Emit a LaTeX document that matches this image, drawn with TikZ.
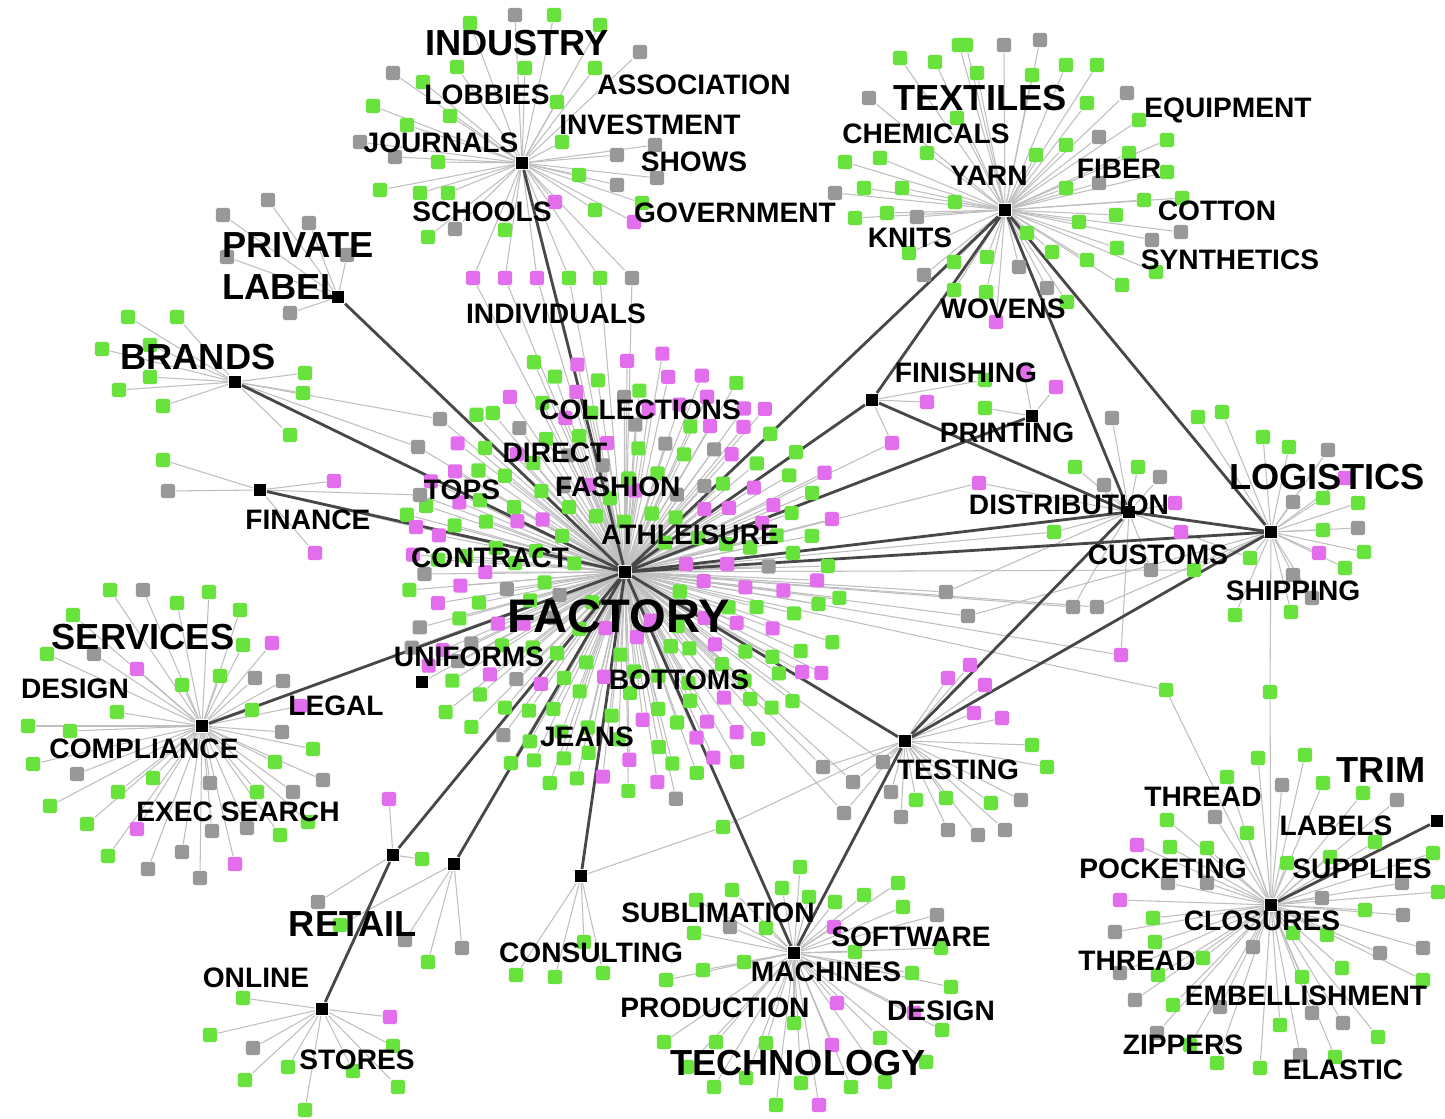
\documentclass[tikz,border=0pt]{standalone}
\usepackage{fontspec}
\setmainfont{Liberation Sans}
\definecolor{gn}{RGB}{104,226,60}
\definecolor{mg}{RGB}{226,110,238}
\definecolor{gy}{RGB}{152,152,152}
\pgfdeclarelayer{paper}
\pgfdeclarelayer{twigs}
\pgfdeclarelayer{words}
\pgfsetlayers{paper,twigs,main,words}
\tikzset{
  hub/.style={rectangle, fill=black, inner sep=0pt, minimum size=3.6pt},
  leaf/.style={rectangle, fill=#1, inner sep=0pt, minimum size=4pt, rounded corners=0.5pt},
  twig/.style={draw=gray!50, line width=0.3pt},
  trunk/.style={draw=black!72, line width=0.8pt},
  tag/.style={font=\fontsize{8}{9}\selectfont\bfseries, inner sep=0pt},
  title/.style={font=\fontsize{10.3}{12}\selectfont\bfseries, inner sep=0pt},
}
% thin lines from a hub to its leaves #1-1 ... #1-\nleaf
\newcommand\twigs[1]{%
  \begin{pgfonlayer}{twigs}
  \foreach \k in {1,...,\nleaf} \draw[twig] (#1) -- (#1-\k);
  \end{pgfonlayer}}
\begin{document}
\begin{tikzpicture}[x=0.01cm, y=-0.01cm]
\begin{pgfonlayer}{paper}
\fill[white] (0,0) rectangle (1445,1119);
\end{pgfonlayer}
\useasboundingbox (0,0) rectangle (1445,1119);

% hubs
\node[hub] (fac) at (625,572) {};
\node[hub] (ind) at (522,163) {};
\node[hub] (yarn) at (1005,210) {};
\node[hub] (plab) at (338,297) {};
\node[hub] (brand) at (235,382) {};
\node[hub] (fin) at (260,490) {};
\node[hub] (serv) at (202,726) {};
\node[hub] (legal) at (422,682) {};
\node[hub] (ret) at (393,855) {};
\node[hub] (ret2) at (454,864) {};
\node[hub] (store) at (322,1009) {};
\node[hub] (cons) at (581,876) {};
\node[hub] (mach) at (794,953) {};
\node[hub] (test) at (905,741) {};
\node[hub] (finish) at (872,400) {};
\node[hub] (print) at (1032,416) {};
\node[hub] (dist) at (1129,512) {};
\node[hub] (logi) at (1271,532) {};
\node[hub] (trim) at (1271,905) {};
\node[hub] (trimx) at (1437,821) {};

% hub to hub
\foreach \a/\b in {fac/ind, fac/plab, fac/brand, fac/fin, fac/serv, fac/yarn,
  fac/finish, fac/print, fac/dist, fac/logi, fac/test, fac/mach, fac/cons,
  fac/ret, fac/ret2, ret/store, yarn/finish, yarn/dist, yarn/logi,
  finish/dist, dist/logi, dist/test, logi/test, test/mach, trim/trimx}
  \draw[trunk] (\a) -- (\b);
\begin{pgfonlayer}{twigs}
\draw[twig] (fac) -- (legal);
\end{pgfonlayer}

% factory cloud
\pgfmathsetseed{4}
\foreach \i in {1,...,210}{
  \pgfmathsetmacro\ang{360*(\i*0.381966-floor(\i*0.381966))}
  \pgfmathsetmacro\rad{10*sqrt(20+\i/210*(515-20))}
  \pgfmathsetmacro\u{rnd}
  \pgfmathsetmacro\px{622+\rad*cos(\ang)+6*rand}
  \pgfmathsetmacro\py{575+\rad*sin(\ang)+6*rand}
  \ifdim\u pt<0.28pt \def\c{mg}\else\ifdim\u pt<0.42pt \def\c{gy}\else\def\c{gn}\fi\fi
  \node[leaf=\c] (fac-\i) at (\px,\py) {};
  \xdef\nleaf{\i}
}
\twigs{fac}

% industry
\foreach \x/\y/\c [count=\i] in {393/73/gy, 423/82/gn, 373/106/gn, 407/125/gn,
  450/116/gn, 360/142/gy, 395/157/gy, 438/162/gn, 380/190/gn, 420/193/gn,
  448/193/gn, 455/229/gy, 428/237/gn, 470/23/gn, 457/67/gn, 515/15/gy,
  554/15/gn, 600/25/gn, 640/52/gy, 525/68/gn, 595/68/gn, 557/102/gn,
  562/142/gn, 617/155/gy, 655/145/gy, 579/175/gn, 617/185/gy, 657/178/gy,
  555/202/mg, 595/210/gn, 642/203/gn, 634/222/mg, 505/230/gn}{
  \node[leaf=\c] (ind-\i) at (\x,\y) {};
  \xdef\nleaf{\i}
}
\twigs{ind}

% textiles
\foreach \x/\y/\c [count=\i] in {966/45/gn, 1004/45/gy, 1040/40/gy, 977/73/gn,
  1032/75/gn, 1066/65/gn, 1097/65/gn, 1127/93/gy, 1087/103/gn, 1139/120/gn,
  1099/137/gy, 1066/145/gn, 1036/155/gn, 1167/140/gn, 1129/153/gn,
  1167/172/gn, 1099/183/gy, 1066/188/gn, 1144/200/gn, 1182/198/gn,
  1116/215/gn, 1079/222/gn, 1181/232/gy, 1152/240/gy, 1027/233/gn,
  1052/252/gn, 1087/260/gn, 1117/248/gn, 1156/272/gn, 1122/285/gn,
  1019/267/gy, 987/257/gn, 1047/288/gy, 986/292/gn, 1067/302/gn, 996/322/mg,
  900/58/gn, 935/62/gn, 869/98/gy, 845/162/gn, 880/158/gn, 927/153/gn,
  835/193/gy, 864/188/gn, 902/188/gn, 855/218/gn, 887/213/gn, 917/217/gy,
  955/202/gn, 909/253/gn, 924/275/gy, 954/262/gn, 954/290/gn, 959/45/gn,
  957/118/gn}{
  \node[leaf=\c] (yarn-\i) at (\x,\y) {};
  \xdef\nleaf{\i}
}
\twigs{yarn}

% private label, brands, finance
\foreach \x/\y/\c [count=\i] in {268/200/gy, 223/215/gy, 309/223/gy, 227/257/gy,
  347/255/gy, 290/313/gy}{
  \node[leaf=\c] (plab-\i) at (\x,\y) {};
  \xdef\nleaf{\i}
}
\twigs{plab}
\foreach \x/\y/\c [count=\i] in {128/317/gn, 177/317/gn, 102/349/gn, 150/345/gn,
  150/377/gn, 119/390/gn, 163/406/gn, 305/373/gn, 303/393/gn, 290/435/gn}{
  \node[leaf=\c] (brand-\i) at (\x,\y) {};
  \xdef\nleaf{\i}
}
\twigs{brand}
\foreach \x/\y/\c [count=\i] in {163/460/gn, 168/491/gy, 334/481/mg, 315/553/mg}{
  \node[leaf=\c] (fin-\i) at (\x,\y) {};
  \xdef\nleaf{\i}
}
\twigs{fin}

% services
\foreach \x/\y/\c [count=\i] in {110/590/gn, 143/590/gy, 177/603/gn, 209/592/gn,
  240/610/gn, 73/615/gn, 47/654/gn, 94/654/gy, 243/645/gn, 272/643/mg,
  137/669/mg, 182/685/gn, 220/676/gn, 255/678/gy, 283/681/gy, 117/712/gn,
  28/726/gn, 70/731/gn, 252/710/gn, 300/706/mg, 282/732/gy, 313/749/gn,
  33/764/gn, 77/774/gy, 153/778/gn, 275/762/gn, 323/780/gy, 118/792/gn,
  210/783/gy, 257/792/gn, 293/792/gy, 50/806/gn, 87/824/gn, 137/829/mg,
  212/831/gy, 247/828/gy, 280/835/gn, 308/822/gn, 108/856/gn, 182/852/gy,
  235/864/mg, 148/869/gy, 200/878/gy}{
  \node[leaf=\c] (serv-\i) at (\x,\y) {};
  \xdef\nleaf{\i}
}
\twigs{serv}

% retail
\foreach \x/\y/\c [count=\i] in {389/799/mg, 318/902/gy, 422/859/gn}{
  \node[leaf=\c] (ret-\i) at (\x,\y) {};
  \xdef\nleaf{\i}
}
\twigs{ret}
\foreach \x/\y/\c [count=\i] in {405/940/gy, 428/962/gn, 462/948/gy, 340/925/gn}{
  \node[leaf=\c] (ret2-\i) at (\x,\y) {};
  \xdef\nleaf{\i}
}
\twigs{ret2}
\foreach \x/\y/\c [count=\i] in {243/998/gn, 390/1017/mg, 210/1035/gn,
  253/1048/gy, 393/1046/gn, 288/1067/gn, 353/1071/gn, 245/1080/gn,
  398/1087/gn, 305/1110/gn}{
  \node[leaf=\c] (store-\i) at (\x,\y) {};
  \xdef\nleaf{\i}
}
\twigs{store}

% consulting, technology
\foreach \x/\y/\c [count=\i] in {516/975/gn, 555/977/gn, 603/973/gn, 584/942/gn}{
  \node[leaf=\c] (cons-\i) at (\x,\y) {};
  \xdef\nleaf{\i}
}
\twigs{cons}
\foreach \x/\y/\c [count=\i] in {800/867/gn, 732/890/gn, 782/888/gn, 809/897/gn,
  696/900/gn, 835/902/gn, 864/895/gn, 898/883/gn, 903/907/gn, 937/915/gy,
  834/927/mg, 730/927/gy, 766/928/gn, 694/933/gn, 855/952/gn, 941/948/gn,
  744/962/gn, 703/970/gn, 666/980/gn, 912/973/gn, 951/987/gn, 837/1003/mg,
  794/1023/gn, 914/1013/mg, 942/1030/gn, 664/1042/gn, 716/1042/gn,
  766/1043/gn, 832/1045/mg, 880/1038/gn, 926/1062/gn, 687/1067/gn,
  746/1078/gn, 714/1087/gn, 801/1083/gn, 851/1087/gn, 885/1082/gn,
  776/1105/gn, 819/1105/mg}{
  \node[leaf=\c] (mach-\i) at (\x,\y) {};
  \xdef\nleaf{\i}
}
\twigs{mach}

% testing
\foreach \x/\y/\c [count=\i] in {970/665/mg, 948/678/mg, 985/685/mg, 974/713/mg,
  1002/718/mg, 1032/745/gn, 1047/767/gn, 883/762/gy, 823/767/gy, 853/782/gy,
  891/792/gy, 844/813/gy, 901/817/gy, 916/800/gn, 946/798/gn, 991/803/gn,
  1021/800/gy, 948/830/gy, 978/835/gy, 1005/830/gy}{
  \node[leaf=\c] (test-\i) at (\x,\y) {};
  \xdef\nleaf{\i}
}
\twigs{test}

% finishing, printing, distribution, logistics
\foreach \x/\y/\c [count=\i] in {927/402/mg, 985/380/gn}{
  \node[leaf=\c] (finish-\i) at (\x,\y) {};
  \xdef\nleaf{\i}
}
\twigs{finish}
\foreach \x/\y/\c [count=\i] in {1024/373/mg, 1056/387/mg, 985/408/gn}{
  \node[leaf=\c] (print-\i) at (\x,\y) {};
  \xdef\nleaf{\i}
}
\twigs{print}
\foreach \x/\y/\c [count=\i] in {1075/467/gn, 1138/467/gn, 1104/485/gy,
  1160/477/gy, 1175/503/mg, 1181/532/mg, 1112/418/gy, 1151/570/gy}{
  \node[leaf=\c] (dist-\i) at (\x,\y) {};
  \xdef\nleaf{\i}
}
\twigs{dist}
\foreach \x/\y/\c [count=\i] in {1198/417/gn, 1222/412/gn, 1263/437/gn,
  1289/447/gn, 1328/450/gy, 1345/478/mg, 1293/502/gy, 1323/498/gn,
  1358/503/gn, 1323/530/gn, 1358/528/gy, 1319/553/mg, 1364/552/gn,
  1345/568/gn, 1293/575/gy, 1312/598/gy, 1235/615/gn, 1291/612/gn}{
  \node[leaf=\c] (logi-\i) at (\x,\y) {};
  \xdef\nleaf{\i}
}
\twigs{logi}

% trim
\foreach \x/\y/\c [count=\i] in {1258/758/gn, 1305/755/gn, 1227/777/gn,
  1282/785/gy, 1323/783/gn, 1363/793/gn, 1397/800/gy, 1167/820/gn,
  1215/817/gy, 1247/833/gn, 1375/842/gn, 1137/845/mg, 1170/847/gn,
  1207/848/gn, 1287/863/gn, 1330/857/gn, 1433/853/gn, 1168/883/gy,
  1207/883/gy, 1402/883/gy, 1438/892/gn, 1120/900/mg, 1322/898/gy,
  1365/910/gn, 1403/915/gy, 1153/918/gn, 1115/932/gy, 1293/933/gn,
  1327/935/gn, 1155/942/gn, 1253/947/gy, 1380/953/gy, 1423/948/gy,
  1203/958/gn, 1120/973/gy, 1158/975/gn, 1302/977/gn, 1342/968/gn,
  1423/980/gn, 1135/1000/gy, 1173/1005/gn, 1220/1007/gy, 1312/1013/gy,
  1343/1023/gy, 1280/1025/gn, 1378/1037/gn, 1157/1033/gy, 1190/1045/gn,
  1300/1055/gy, 1335/1057/gn, 1217/1063/gn, 1260/1068/gn}{
  \node[leaf=\c] (trim-\i) at (\x,\y) {};
  \xdef\nleaf{\i}
}
\twigs{trim}

% leaves shared by two hubs
\foreach \x/\y/\c [count=\i] in {473/278/mg, 505/278/mg, 537/278/mg, 569/278/gn,
  600/278/gn, 632/278/gy, 1121/655/mg, 1166/690/gn, 1270/692/gn, 723/827/gn,
  946/592/gy, 968/616/gy, 892/443/mg, 979/483/mg, 1054/532/gn, 1073/607/gy,
  1097/607/gy, 1194/570/gn, 1250/558/gn, 418/447/gy, 440/419/gy, 416/527/mg,
  420/495/gy}
  \node[leaf=\c] (sh-\i) at (\x,\y) {};
\begin{pgfonlayer}{twigs}
\foreach \a/\i/\b in {ind/1/fac, ind/2/fac, ind/3/fac, ind/4/fac, ind/5/fac,
  ind/6/fac, dist/7/fac, fac/8/trim, logi/9/trim, cons/10/test, dist/11/fac,
  logi/12/fac, finish/13/fac, dist/14/fac, dist/15/fac, dist/16/fac,
  logi/17/fac, logi/18/fac, logi/19/dist, brand/20/fac, brand/21/fac,
  fin/22/fac, fin/23/fac}
  \draw[twig] (\a) -- (sh-\i) -- (\b);
\foreach \n in {test-9, test-10, test-12, test-8}
  \draw[twig] (fac) -- (\n);
\end{pgfonlayer}

% labels
\begin{pgfonlayer}{words}
\node[title] (tind) at (517,43) {INDUSTRY};
\node[title] (ttex) at (980,98) {TEXTILES};
\node[title, align=left] (tplab) at (298,266) {PRIVATE\\LABEL};
\node[title] (tbrand) at (198,357) {BRANDS};
\node[title] (tserv) at (143,637) {SERVICES};
\node[title] (tret) at (353,924) {RETAIL};
\node[title] (ttech) at (798,1063) {TECHNOLOGY};
\node[title] (tlogi) at (1327,477) {LOGISTICS};
\node[title] (ttrim) at (1381,770) {TRIM};
\node[font=\fontsize{13.4}{14}\selectfont\bfseries, inner sep=0pt] (tfac) at (619,616) {FACTORY};

\node[tag] (lobbies) at (487,95) {LOBBIES};
\node[tag] (journals) at (441,143) {JOURNALS};
\node[tag] (schools) at (482,212) {SCHOOLS};
\node[tag] (assoc) at (694,85) {ASSOCIATION};
\node[tag] (invest) at (650,125) {INVESTMENT};
\node[tag] (shows) at (694,162) {SHOWS};
\node[tag] (govt) at (735,213) {GOVERNMENT};
\node[tag] (indiv) at (556,314) {INDIVIDUALS};
\node[tag] (chem) at (926,134) {CHEMICALS};
\node[tag] (equip) at (1228,110) {EQUIPMENT};
\node[tag] (tyarn) at (989,176) {YARN};
\node[tag] (fiber) at (1119,169) {FIBER};
\node[tag] (cotton) at (1217,211) {COTTON};
\node[tag] (synth) at (1230,260) {SYNTHETICS};
\node[tag] (knits) at (910,238) {KNITS};
\node[tag] (wovens) at (1003,309) {WOVENS};
\node[tag] (tfinish) at (966,373) {FINISHING};
\node[tag] (tprint) at (1007,433) {PRINTING};
\node[tag] (tdist) at (1069,505) {DISTRIBUTION};
\node[tag] (customs) at (1158,555) {CUSTOMS};
\node[tag] (shipping) at (1293,591) {SHIPPING};
\node[tag] (ttest) at (958,770) {TESTING};
\node[tag] (collect) at (640,410) {COLLECTIONS};
\node[tag] (direct) at (555,453) {DIRECT};
\node[tag] (tops) at (462,490) {TOPS};
\node[tag] (fashion) at (618,487) {FASHION};
\node[tag] (athl) at (690,535) {ATHLEISURE};
\node[tag] (contract) at (490,558) {CONTRACT};
\node[tag] (uniforms) at (469,657) {UNIFORMS};
\node[tag] (bottoms) at (679,680) {BOTTOMS};
\node[tag] (jeans) at (587,737) {JEANS};
\node[tag] (tfin) at (308,520) {FINANCE};
\node[tag] (design1) at (75,689) {DESIGN};
\node[tag] (tlegal) at (336,706) {LEGAL};
\node[tag] (compl) at (144,749) {COMPLIANCE};
\node[tag] (exec) at (238,812) {EXEC SEARCH};
\node[tag] (online) at (256,978) {ONLINE};
\node[tag] (stores) at (357,1060) {STORES};
\node[tag] (sublim) at (718,913) {SUBLIMATION};
\node[tag] (software) at (911,937) {SOFTWARE};
\node[tag] (tcons) at (591,953) {CONSULTING};
\node[tag] (machines) at (826,972) {MACHINES};
\node[tag] (prod) at (715,1008) {PRODUCTION};
\node[tag] (design2) at (941,1011) {DESIGN};
\node[tag] (thread1) at (1203,797) {THREAD};
\node[tag] (labels) at (1336,826) {LABELS};
\node[tag] (pocket) at (1163,869) {POCKETING};
\node[tag] (supplies) at (1362,869) {SUPPLIES};
\node[tag] (closures) at (1262,921) {CLOSURES};
\node[tag] (thread2) at (1137,961) {THREAD};
\node[tag] (embell) at (1306,996) {EMBELLISHMENT};
\node[tag] (zippers) at (1183,1045) {ZIPPERS};
\node[tag] (elastic) at (1343,1070) {ELASTIC};
\end{pgfonlayer}
\end{tikzpicture}
\end{document}
